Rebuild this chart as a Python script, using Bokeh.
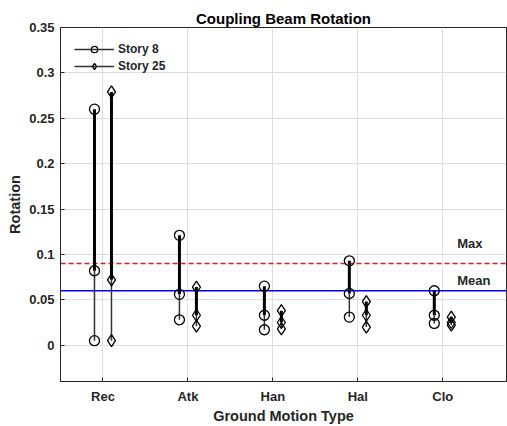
from bokeh.plotting import figure
from bokeh.models import (Range1d, FixedTicker, NumeralTickFormatter, Span, Label,
                          Legend, LegendItem, ColumnDataSource)
from bokeh.embed import file_html
from bokeh.resources import INLINE

categories = ["Rec", "Atk", "Han", "Hal", "Clo"]
story8_max = [0.260, 0.121, 0.065, 0.093, 0.060]
story8_mid = [0.082, 0.056, 0.033, 0.057, 0.033]
story8_min = [0.005, 0.028, 0.017, 0.031, 0.024]
story25_max = [0.279, 0.064, 0.038, 0.048, 0.031]
story25_mid = [0.072, 0.033, 0.025, 0.033, 0.025]
story25_min = [0.005, 0.021, 0.018, 0.020, 0.022]
mean_value = 0.06
max_value = 0.09
y_ticks = [0, 0.05, 0.1, 0.15, 0.2, 0.25, 0.3, 0.35]

FONT = "Liberation Sans"
TXT = "#262626"

p = figure(width=507, height=426, output_backend="svg", toolbar_location=None,
           x_range=Range1d(0.5, 5.75), y_range=Range1d(-0.04, 0.35),
           min_border_left=60, min_border_right=1, min_border_top=27, min_border_bottom=44,
           background_fill_color="white", border_fill_color="white")

p.title.text = "Coupling Beam Rotation"
p.title.align = "center"
p.title.text_font = FONT
p.title.text_font_size = "15px"
p.title.text_color = "black"
p.title.offset = 0
p.title.standoff = 2

p.outline_line_color = TXT
p.outline_line_width = 1

pos = list(range(1, len(categories) + 1))
p.xaxis.ticker = FixedTicker(ticks=pos)
p.xaxis.major_label_overrides = {i: c for i, c in zip(pos, categories)}
p.yaxis.ticker = FixedTicker(ticks=y_ticks)
p.yaxis.formatter = NumeralTickFormatter(format="0.[00]")

for ax in (p.xaxis[0], p.yaxis[0]):
    ax.axis_line_color = TXT
    ax.major_tick_line_color = TXT
    ax.major_tick_in = 4
    ax.major_tick_out = 0
    ax.minor_tick_line_color = None
    ax.major_label_text_font = FONT
    ax.major_label_text_font_style = "bold"
    ax.major_label_text_font_size = "13px"
    ax.major_label_text_color = TXT
    ax.axis_label_text_font = FONT
    ax.axis_label_text_font_style = "bold"
    ax.axis_label_text_font_size = "14.5px"
    ax.axis_label_text_color = TXT
p.xaxis.axis_label = "Ground Motion Type"
p.yaxis.axis_label = "Rotation"
p.xaxis.major_label_standoff = 7
p.xaxis.axis_label_standoff = 1
p.yaxis.major_label_standoff = 6
p.yaxis.axis_label_standoff = 3

p.grid.grid_line_color = "#dedede"
p.grid.grid_line_width = 1

p.add_layout(Span(location=max_value, dimension="width", line_color="#e8191c",
                  line_dash="5 3", line_width=1.5, level="underlay"))
p.add_layout(Span(location=mean_value, dimension="width", line_color="#0000ff",
                  line_width=1.5, level="underlay"))

p.add_layout(Label(x=5.17, y=0.1125, text="Max", text_font=FONT, text_font_style="bold",
                   text_font_size="13px", text_color=TXT, text_baseline="middle"))
p.add_layout(Label(x=5.17, y=0.0715, text="Mean", text_font=FONT, text_font_style="bold",
                   text_font_size="13px", text_color=TXT, text_baseline="middle"))

def series(off, mx, md, mn, marker, msize):
    xs = [i + off for i in pos]
    src = ColumnDataSource(dict(x=xs, mx=mx, md=md, mn=mn))
    lo = p.segment(x0="x", y0="mn", x1="x", y1="md", source=src, line_color="#333333", line_width=1.5)
    p.segment(x0="x", y0="md", x1="x", y1="mx", source=src, line_color="black", line_width=3)
    mrs = []
    for col in ("mx", "md", "mn"):
        r = p.scatter(x="x", y=col, source=src, marker=marker, size=msize,
                      line_color="black", line_width=1.3, fill_alpha=0)
        mrs.append(r)
    return lo, mrs[0]

l8, m8 = series(-0.1, story8_max, story8_mid, story8_min, "circle", 10)
l25, m25 = series(0.1, story25_max, story25_mid, story25_min, "diamond", 12)

legend = Legend(items=[LegendItem(label="Story 8", renderers=[l8, m8]),
                       LegendItem(label="Story 25", renderers=[l25, m25])],
                location="top_left", border_line_color=None, background_fill_alpha=0,
                glyph_width=40, glyph_height=16, spacing=1, padding=7, margin=14,
                label_text_font=FONT, label_text_font_style="bold",
                label_text_font_size="12px", label_text_color=TXT, label_standoff=4)
p.add_layout(legend)

open("out.html", "w").write(file_html(p, INLINE))
